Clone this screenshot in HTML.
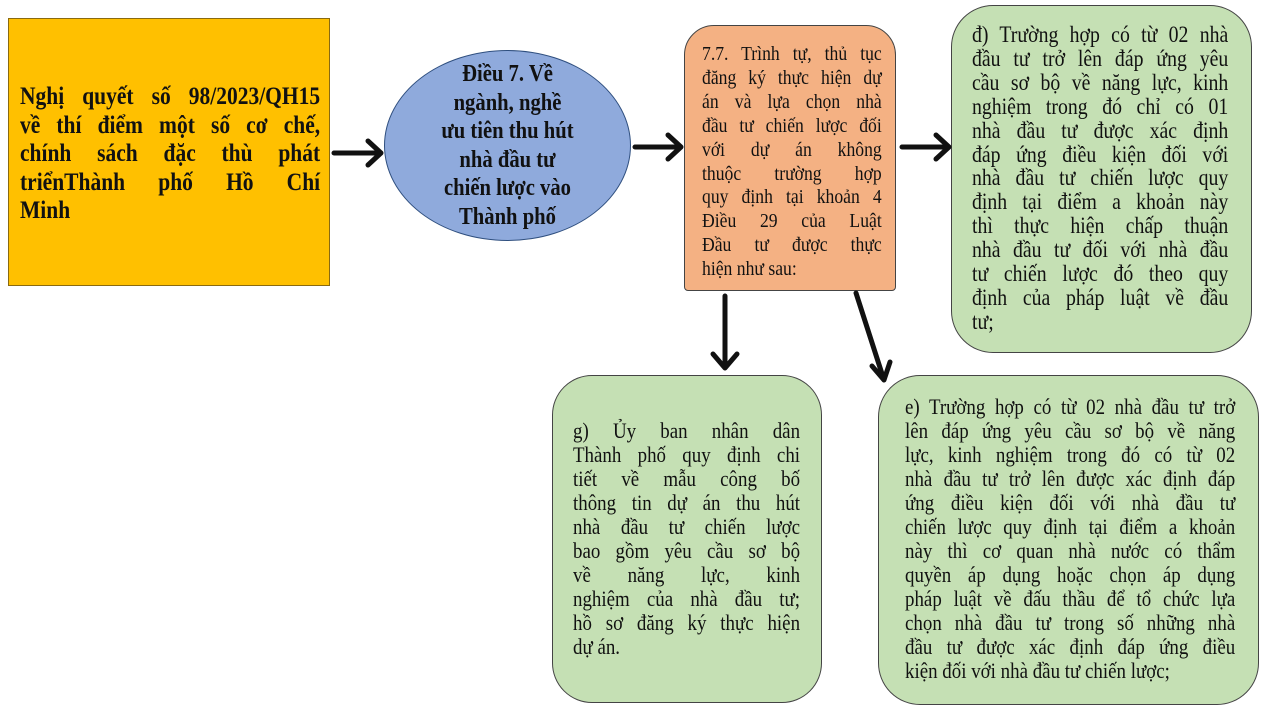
<!DOCTYPE html>
<html><head><meta charset="utf-8"><style>
body{margin:0;width:1280px;height:720px;background:#fff;position:relative;overflow:hidden;font-family:"Liberation Serif",serif;color:#111}
.b{position:absolute;box-sizing:border-box;border:1.5px solid #444}
.t{position:absolute;transform:scaleX(.86);transform-origin:0 0}
.t div{white-space:nowrap;text-align:justify;text-align-last:justify}
.t div.l{text-align-last:left}
.c div{text-align:center;text-align-last:center}
svg{position:absolute;left:0;top:0}
</style></head><body>
<div class="b" style="left:8px;top:18px;width:322px;height:268px;background:#ffc000;border-color:#8a6a10"></div>
<div class="t" style="left:20px;top:83px;width:349px;font-weight:bold;font-size:25px;line-height:28.5px">
<div>Nghị quyết số 98/2023/QH15</div><div>về thí điểm một số cơ chế,</div><div>chính sách đặc thù phát</div><div>triểnThành phố Hồ Chí</div><div class="l">Minh</div></div>
<div class="b" style="left:384px;top:50px;width:247px;height:191px;border-radius:50%;background:#8faadc;border-color:#2f4f7f"></div>
<div class="t c" style="left:400px;top:60px;width:250px;font-weight:bold;font-size:24px;line-height:28.5px">
<div>Điều 7. Về</div><div>ngành, nghề</div><div>ưu tiên thu hút</div><div>nhà đầu tư</div><div>chiến lược vào</div><div>Thành phố</div></div>
<div class="b" style="left:684px;top:25px;width:212px;height:266px;background:#f4b183;border-radius:30px 30px 4px 4px"></div>
<div class="t" style="left:702px;top:43px;width:209px;font-size:20.5px;line-height:23.9px">
<div>7.7. Trình tự, thủ tục</div><div>đăng ký thực hiện dự</div><div>án và lựa chọn nhà</div><div>đầu tư chiến lược đối</div><div>với dự án không</div><div>thuộc trường hợp</div><div>quy định tại khoản 4</div><div>Điều 29 của Luật</div><div>Đầu tư được thực</div><div class="l">hiện như sau:</div></div>
<div class="b" style="left:951px;top:5px;width:301px;height:348px;background:#c5e0b4;border-radius:42px"></div>
<div class="t" style="left:972px;top:23px;width:298px;font-size:23px;line-height:23.9px">
<div>đ) Trường hợp có từ 02 nhà</div><div>đầu tư trở lên đáp ứng yêu</div><div>cầu sơ bộ về năng lực, kinh</div><div>nghiệm trong đó chỉ có 01</div><div>nhà đầu tư được xác định</div><div>đáp ứng điều kiện đối với</div><div>nhà đầu tư chiến lược quy</div><div>định tại điểm a khoản này</div><div>thì thực hiện chấp thuận</div><div>nhà đầu tư đối với nhà đầu</div><div>tư chiến lược đó theo quy</div><div>định của pháp luật về đầu</div><div class="l">tư;</div></div>
<div class="b" style="left:552px;top:375px;width:270px;height:328px;background:#c5e0b4;border-radius:40px"></div>
<div class="t" style="left:573px;top:419px;width:264px;font-size:22px;line-height:24px">
<div>g) Ủy ban nhân dân</div><div>Thành phố quy định chi</div><div>tiết về mẫu công bố</div><div>thông tin dự án thu hút</div><div>nhà đầu tư chiến lược</div><div>bao gồm yêu cầu sơ bộ</div><div>về năng lực, kinh</div><div>nghiệm của nhà đầu tư;</div><div>hồ sơ đăng ký thực hiện</div><div class="l">dự án.</div></div>
<div class="b" style="left:878px;top:375px;width:381px;height:330px;background:#c5e0b4;border-radius:42px"></div>
<div class="t" style="left:905px;top:395px;width:384px;font-size:22px;line-height:24px">
<div>e) Trường hợp có từ 02 nhà đầu tư trở</div><div>lên đáp ứng yêu cầu sơ bộ về năng</div><div>lực, kinh nghiệm trong đó có từ 02</div><div>nhà đầu tư trở lên được xác định đáp</div><div>ứng điều kiện đối với nhà đầu tư</div><div>chiến lược quy định tại điểm a khoản</div><div>này thì cơ quan nhà nước có thẩm</div><div>quyền áp dụng hoặc chọn áp dụng</div><div>pháp luật về đấu thầu để tổ chức lựa</div><div>chọn nhà đầu tư trong số những nhà</div><div>đầu tư được xác định đáp ứng điều</div><div class="l">kiện đối với nhà đầu tư chiến lược;</div></div>
<svg width="1280" height="720" fill="none" stroke="#111" stroke-width="5" stroke-linecap="round" stroke-linejoin="round">
<path d="M334 153H380M368 141L381 153L368 165"/>
<path d="M635 147H680M668 135L681 147L668 159"/>
<path d="M902 147H948M936 135L949 147L936 159"/>
<path d="M725 296V368M713 354L725 368L737 354"/>
<path d="M856 293L884 380M872 366L884 380L890 362"/>
</svg>
</body></html>
